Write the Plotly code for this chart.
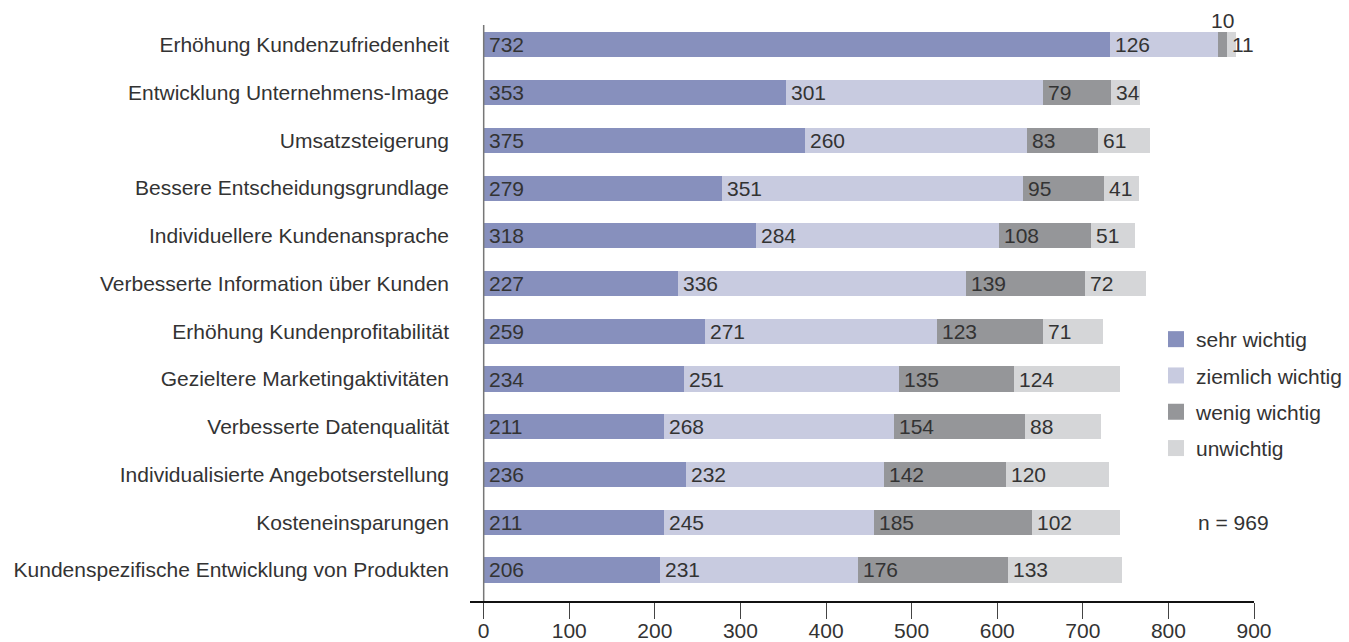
import plotly.graph_objects as go

categories = [
    "Erhöhung Kundenzufriedenheit",
    "Entwicklung Unternehmens-Image",
    "Umsatzsteigerung",
    "Bessere Entscheidungsgrundlage",
    "Individuellere Kundenansprache",
    "Verbesserte Information über Kunden",
    "Erhöhung Kundenprofitabilität",
    "Gezieltere Marketingaktivitäten",
    "Verbesserte Datenqualität",
    "Individualisierte Angebotserstellung",
    "Kosteneinsparungen",
    "Kundenspezifische Entwicklung von Produkten",
]
sehr_wichtig = [732, 353, 375, 279, 318, 227, 259, 234, 211, 236, 211, 206]
ziemlich_wichtig = [126, 301, 260, 351, 284, 336, 271, 251, 268, 232, 245, 231]
wenig_wichtig = [10, 79, 83, 95, 108, 139, 123, 135, 154, 142, 185, 176]
unwichtig = [11, 34, 61, 41, 51, 72, 71, 124, 88, 120, 102, 133]
series_names = ["sehr wichtig", "ziemlich wichtig", "wenig wichtig", "unwichtig"]
x_ticks = [0, 100, 200, 300, 400, 500, 600, 700, 800, 900]
n_label = "n = 969"

colors = ["#8790BD", "#C8CBE0", "#959699", "#D5D6D8"]
series = [sehr_wichtig, ziemlich_wichtig, wenig_wichtig, unwichtig]

FONT = "'Liberation Sans', Arial, Helvetica, sans-serif"
FS = 21
TXT = "#333333"

fig = go.Figure()
for i, (name, vals) in enumerate(zip(series_names, series)):
    fig.add_trace(go.Bar(
        y=categories, x=vals, name=name, orientation="h",
        marker=dict(color=colors[i], line=dict(width=0)),
        showlegend=False, hoverinfo="x+name",
    ))
# legend entries with larger square symbols
for i, name in enumerate(series_names):
    fig.add_trace(go.Scatter(
        x=[None], y=[None], mode="markers", name=name,
        marker=dict(symbol="square", size=16, color=colors[i]),
        legendgroup=name, showlegend=True, hoverinfo="skip",
    ))

annotations = []
bases = [0] * len(categories)
for si, vals in enumerate(series):
    for ci, v in enumerate(vals):
        if v < 15 and si < len(series) - 1:
            annotations.append(dict(
                x=bases[ci] + v / 2, y=categories[ci], text=str(v), showarrow=False,
                xanchor="center", yanchor="middle", yshift=24,
                font=dict(family=FONT, size=FS, color=TXT)))
        else:
            annotations.append(dict(
                x=bases[ci], y=categories[ci], text=str(v), showarrow=False,
                xanchor="left", yanchor="middle", xshift=3,
                font=dict(family=FONT, size=FS, color=TXT)))
        bases[ci] += v

annotations.append(dict(
    x=(1196 - 470) / 784, xref="paper", y=(601 - 522) / 580, yref="paper",
    text=n_label, showarrow=False, xanchor="left", yanchor="middle",
    font=dict(family=FONT, size=FS, color=TXT)))

fig.update_layout(
    width=1349, height=642,
    margin=dict(l=470, r=95, t=21, b=41, autoexpand=False),
    barmode="stack", bargap=0.475,
    plot_bgcolor="white", paper_bgcolor="white",
    font=dict(family=FONT, size=FS, color=TXT),
    xaxis=dict(
        range=[-16, 900], tickvals=x_ticks, showgrid=False, zeroline=False,
        showline=True, linecolor="#111111", linewidth=2,
        ticks="outside", ticklen=16, tickcolor="#444444", tickwidth=1,
        ticklabelstandoff=-6,
        tickfont=dict(family=FONT, size=FS, color=TXT), automargin=False,
    ),
    yaxis=dict(
        categoryorder="array", categoryarray=categories,
        range=[11.65, -0.5], showgrid=False, zeroline=False, showline=False,
        ticks="", ticklabelstandoff=20, automargin=False,
        tickfont=dict(family=FONT, size=FS, color=TXT),
    ),
    legend=dict(
        x=(1156 - 470) / 784, y=(601 - 319) / 580, xanchor="left", yanchor="top",
        font=dict(family=FONT, size=FS, color=TXT),
        tracegroupgap=6, bgcolor="rgba(0,0,0,0)",
    ),
    shapes=[dict(type="line", xref="x", yref="paper", x0=0, x1=0, y0=0, y1=0.993,
                 line=dict(color="#777777", width=1.5))],
    annotations=annotations,
)

fig.write_html("out.html")
